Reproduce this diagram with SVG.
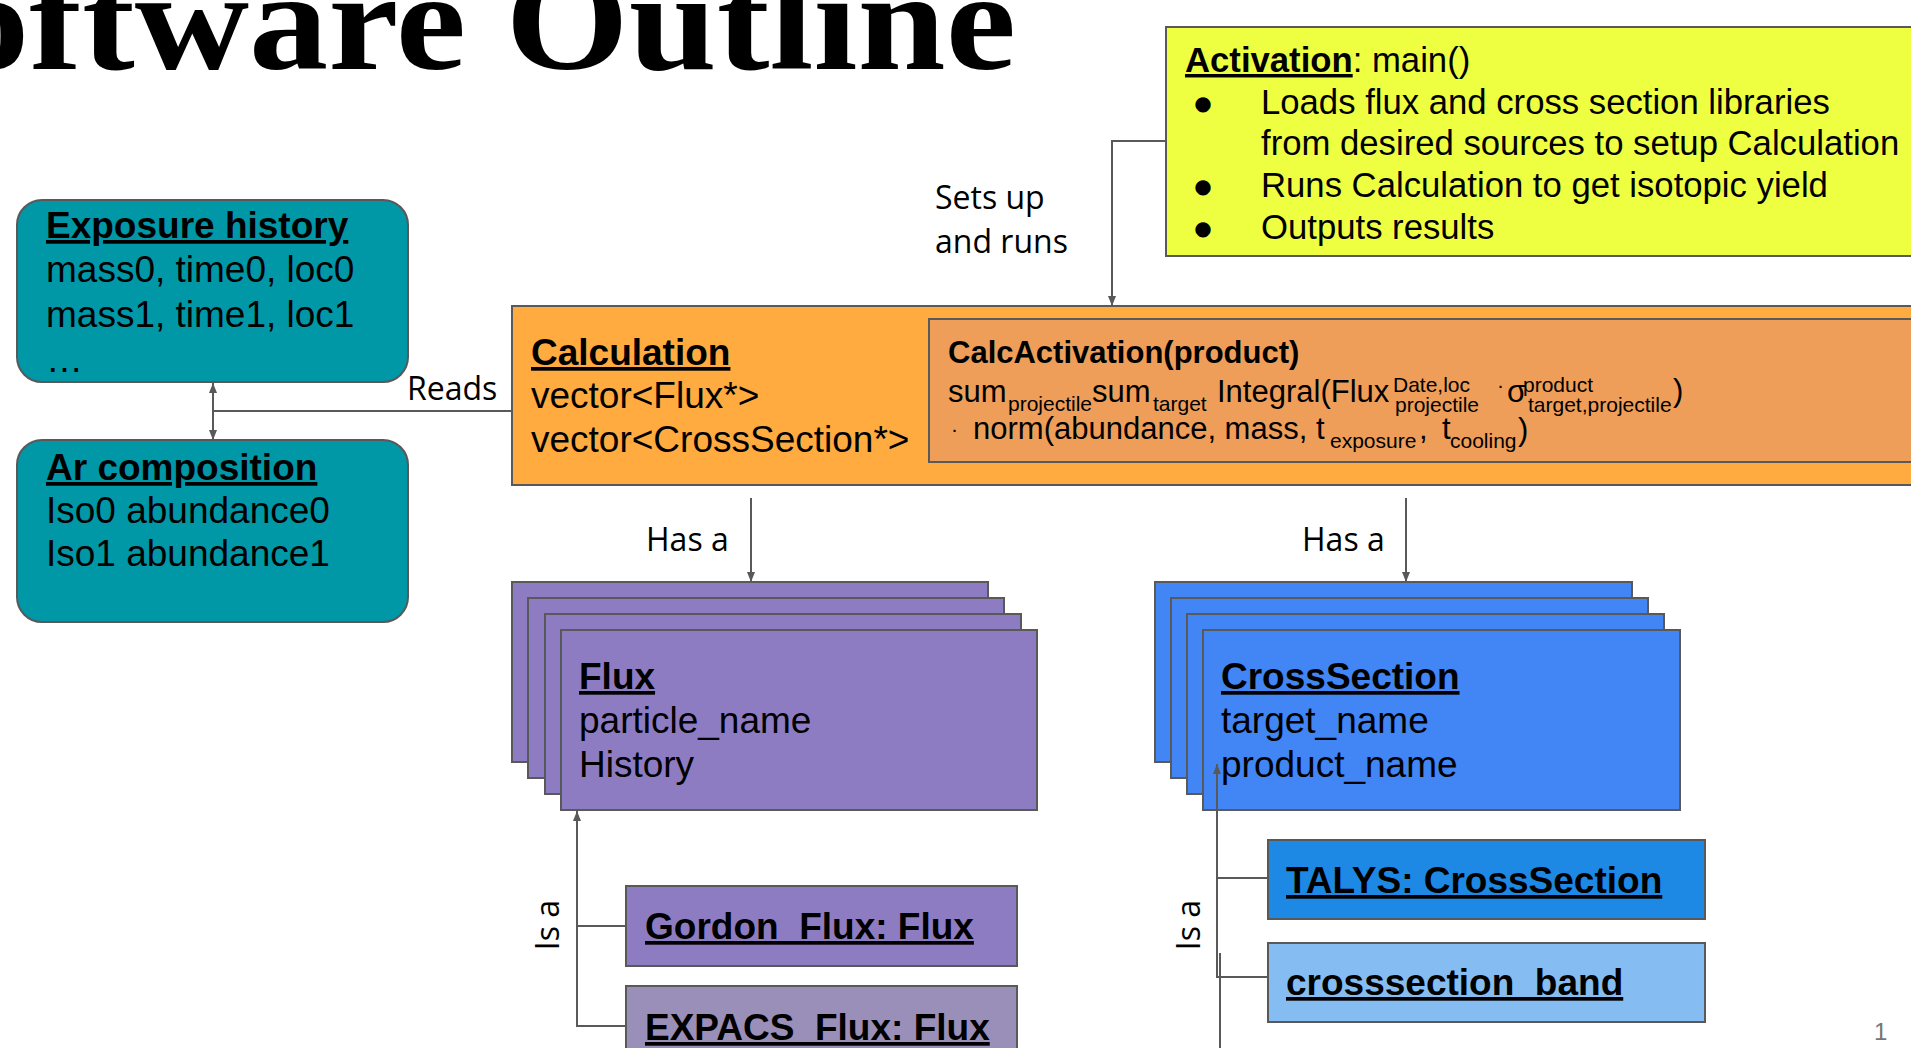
<svg xmlns="http://www.w3.org/2000/svg" width="1911" height="1048" viewBox="0 0 1911 1048">
<style>
.t{font-family:"Liberation Sans",Arial,sans-serif;font-size:37px;fill:#000}
.b{font-weight:bold;text-decoration:underline}
.bo{font-weight:bold}
.a{font-size:34.7px}
.f{font-size:31px}
.s{font-size:21px}
.lbl{font-family:"Open Sans",sans-serif;font-size:32px;fill:#000}
.box{stroke:#595959;stroke-width:2}
.c{fill:none;stroke:#595959;stroke-width:2}
.bul{font-family:"DejaVu Sans",sans-serif;font-size:20px;fill:#000}
</style>
<defs>
<marker id="arr" viewBox="0 0 10 8" refX="10" refY="4" markerWidth="5" markerHeight="4" orient="auto-start-reverse">
<path d="M0,0 L10,4 L0,8 z" fill="#595959"/>
</marker>
</defs>
<rect width="1911" height="1048" fill="#fff"/>
<text id="title" x="-50" y="69" font-family="'Liberation Serif','Times New Roman',serif" font-weight="bold" font-size="142" textLength="1066" lengthAdjust="spacingAndGlyphs">oftware Outline</text>

<g id="activation">
<rect class="box" x="1166" y="27" width="770" height="229" fill="#eeff41"/>
<text class="t a" x="1185" y="72"><tspan class="b">Activation</tspan>: main()</text>
<text class="bul" x="1203" y="110" text-anchor="middle">●</text>
<text class="t a" x="1261" y="114">Loads flux and cross section libraries</text>
<text class="t a" x="1261" y="155">from desired sources to setup Calculation</text>
<text class="bul" x="1203" y="193" text-anchor="middle">●</text>
<text class="t a" x="1261" y="197">Runs Calculation to get isotopic yield</text>
<text class="bul" x="1203" y="235" text-anchor="middle">●</text>
<text class="t a" x="1261" y="239">Outputs results</text>
</g>

<g id="exposure">
<rect class="box" x="17" y="200" width="391" height="182" rx="25" fill="#0097a7"/>
<text class="t b" x="46" y="238">Exposure history</text>
<text class="t" x="46" y="282">mass0, time0, loc0</text>
<text class="t" x="46" y="327">mass1, time1, loc1</text>
<text class="t" x="46" y="372">…</text>
</g>

<g id="ar">
<rect class="box" x="17" y="440" width="391" height="182" rx="25" fill="#0097a7"/>
<text class="t b" x="46" y="480">Ar composition</text>
<text class="t" x="46" y="523">Iso0 abundance0</text>
<text class="t" x="46" y="566">Iso1 abundance1</text>
</g>

<g id="calculation">
<rect class="box" x="512" y="306" width="1420" height="179" fill="#ffab40"/>
<text class="t b" x="531" y="365">Calculation</text>
<text class="t" x="531" y="408">vector&lt;Flux*&gt;</text>
<text class="t" x="531" y="452">vector&lt;CrossSection*&gt;</text>
</g>

<g id="calcactivation">
<rect class="box" x="929" y="319" width="1000" height="143" fill="#ee9e58"/>
<text class="t f bo" x="948" y="363">CalcActivation(product)</text>
<text class="t f" x="948" y="402">sum<tspan class="s" x="1008" y="411">projectile</tspan><tspan x="1092" y="402">sum</tspan><tspan class="s" x="1153" y="411">target</tspan><tspan x="1217" y="402">Integral(Flux</tspan><tspan class="s" x="1393" y="392">Date,loc</tspan><tspan class="s" x="1395" y="412">projectile</tspan><tspan class="s" x="1497" y="392">·</tspan><tspan x="1507" y="402">σ</tspan><tspan class="s" x="1523" y="392">product</tspan><tspan class="s" x="1528" y="412">target,projectile</tspan><tspan x="1673" y="401">)</tspan></text>
<text class="t f" x="951" y="436"><tspan class="s">·</tspan><tspan x="973" y="439">norm(abundance, mass, t</tspan><tspan class="s" x="1330" y="448">exposure</tspan><tspan x="1419" y="439">,</tspan><tspan x="1442" y="439">t</tspan><tspan class="s" x="1450" y="448">cooling</tspan><tspan x="1518" y="440">)</tspan></text>
</g>

<g id="flux">
<rect class="box" x="512" y="582" width="476" height="180" fill="#8e7cc3"/>
<rect class="box" x="528" y="598" width="476" height="180" fill="#8e7cc3"/>
<rect class="box" x="545" y="614" width="476" height="180" fill="#8e7cc3"/>
<rect class="box" x="561" y="630" width="476" height="180" fill="#8e7cc3"/>
<text class="t b" x="579" y="689">Flux</text>
<text class="t" x="579" y="733">particle_name</text>
<text class="t" x="579" y="777">History</text>
</g>

<g id="crosssection">
<rect class="box" x="1155" y="582" width="477" height="180" fill="#4285f4"/>
<rect class="box" x="1171" y="598" width="477" height="180" fill="#4285f4"/>
<rect class="box" x="1187" y="614" width="477" height="180" fill="#4285f4"/>
<rect class="box" x="1203" y="630" width="477" height="180" fill="#4285f4"/>
<text class="t b" x="1221" y="689">CrossSection</text>
<text class="t" x="1221" y="733">target_name</text>
<text class="t" x="1221" y="777">product_name</text>
</g>

<g id="gordon">
<rect class="box" x="626" y="886" width="391" height="80" fill="#8e7cc3"/>
<text class="t b" x="645" y="939">Gordon_Flux: Flux</text>
</g>

<g id="expacs">
<rect class="box" x="626" y="986" width="391" height="80" fill="#9a8fb8"/>
<text class="t b" x="645" y="1040">EXPACS_Flux: Flux</text>
</g>

<g id="talys">
<rect class="box" x="1268" y="840" width="437" height="79" fill="#1e88e5"/>
<text class="t b" x="1286" y="893">TALYS: CrossSection</text>
</g>

<g id="band">
<rect class="box" x="1268" y="943" width="437" height="79" fill="#85bdf2"/>
<text class="t b" x="1286" y="995">crosssection_band</text>
</g>

<text id="page" x="1874" y="1040" font-family="'Liberation Sans',Arial,sans-serif" font-size="24" fill="#757575">1</text>

<g id="connectors">
<line class="c" x1="213" y1="383" x2="213" y2="440" marker-start="url(#arr)" marker-end="url(#arr)"/>
<line class="c" x1="213" y1="411" x2="511" y2="411"/>
<path class="c" d="M1166,141 H1112 V306" marker-end="url(#arr)"/>
<path class="c" d="M751,498 V582" marker-end="url(#arr)"/>
<path class="c" d="M1406,498 V582" marker-end="url(#arr)"/>
<path class="c" d="M626,1026 H577 V811" marker-end="url(#arr)"/>
<path class="c" d="M577,926 H626"/>
<path class="c" d="M1268,977 H1217 V764" marker-end="url(#arr)"/>
<path class="c" d="M1217,878 H1268"/>
<path class="c" d="M1220,953 V1048"/>
<text class="lbl" x="407" y="400">Reads</text>
<text class="lbl" x="935" y="209">Sets up</text>
<text class="lbl" x="935" y="253">and runs</text>
<text class="lbl" x="646" y="551">Has a</text>
<text class="lbl" x="1302" y="551">Has a</text>
<text class="lbl" transform="translate(559,925) rotate(-90)" text-anchor="middle">Is a</text>
<text class="lbl" transform="translate(1200,925) rotate(-90)" text-anchor="middle">Is a</text>
</g>
</svg>
